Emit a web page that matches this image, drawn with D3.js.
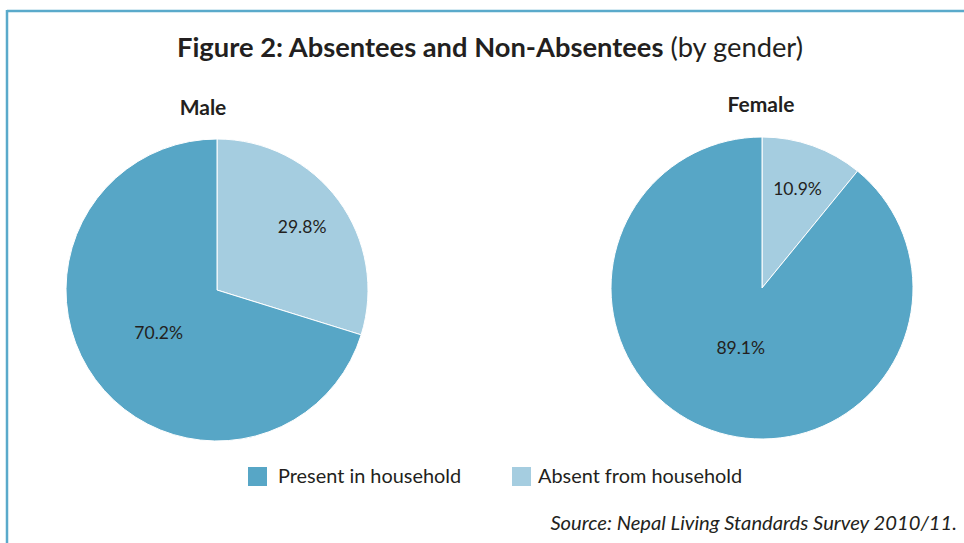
<!DOCTYPE html>
<html>
<head>
<meta charset="utf-8">
<script src="https://cdn.jsdelivr.net/npm/d3@7"></script>
<style>
  html, body { margin: 0; padding: 0; background: #fff; }
  svg { display: block; font-family: Lato, "Open Sans", sans-serif; }
</style>
</head>
<body>
<svg id="chart" width="964" height="543"></svg>
<script>
// Share of people present in / absent from the household, by gender (%)
const categories = ["Absent from household", "Present in household"];
const legendOrder = ["Present in household", "Absent from household"];
const groups = ["Male", "Female"];
const maleValues = [29.8, 70.2];
const femaleValues = [10.9, 89.1];

const titleBold = "Figure 2: Absentees and Non-Absentees";
const titleRest = " (by gender)";
const sourceText = "Source: Nepal Living Standards Survey 2010/11.";

const W = 964, H = 543;
const svg = d3.select("#chart");

const color = d3.scaleOrdinal()
  .domain(categories)
  .range(["#a5cde0", "#57a6c6"]);

// frame: top and left rules
svg.append("line").attr("x1", 7).attr("x2", W).attr("y1", 11).attr("y2", 11)
  .attr("stroke", "#5aaacb").attr("stroke-width", 2.5);
svg.append("line").attr("x1", 7).attr("x2", 7).attr("y1", 10).attr("y2", H)
  .attr("stroke", "#5aaacb").attr("stroke-width", 2.5);

// title
const title = svg.append("text")
  .attr("x", 490).attr("y", 57)
  .attr("text-anchor", "middle")
  .attr("font-size", 27.3)
  .attr("fill", "#231f20");
title.append("tspan").attr("font-weight", "bold").text(titleBold);
title.append("tspan").text(titleRest);

const radius = 151;
const centers = [{ x: 217, y: 290 }, { x: 762, y: 288 }];
const groupTitleY = [115, 112];
const seriesList = [maleValues, femaleValues];

const pie = d3.pie().sort(null).value(d => d.value);
const arc = d3.arc().innerRadius(0).outerRadius(radius);

groups.forEach((g, i) => {
  const data = categories.map((c, k) => ({ cat: c, value: seriesList[i][k] }));
  const gEl = svg.append("g")
    .attr("transform", `translate(${centers[i].x},${centers[i].y})`);

  const arcs = pie(data);
  gEl.selectAll("path")
    .data(arcs)
    .enter().append("path")
    .attr("d", arc)
    .attr("fill", d => color(d.data.cat))
    .attr("stroke", "#ffffff")
    .attr("stroke-width", 1);

  gEl.selectAll("text.val")
    .data(arcs)
    .enter().append("text")
    .attr("class", "val")
    .attr("transform", d => {
      const share = d.data.value / 100;
      const lr = radius * (share < 0.5 ? 0.7 : (share > 0.8 ? 0.42 : 0.48));
      const a = d3.arc().innerRadius(lr).outerRadius(lr);
      const [cx, cy] = a.centroid(d);
      return `translate(${cx},${cy})`;
    })
    .attr("text-anchor", "middle")
    .attr("dy", "0.35em")
    .attr("font-size", 17.5)
    .attr("fill", "#231f20")
    .text(d => d.data.value.toFixed(1) + "%");

  svg.append("text")
    .attr("x", i === 0 ? 203 : 761)
    .attr("y", groupTitleY[i])
    .attr("text-anchor", "middle")
    .attr("font-size", 21)
    .attr("font-weight", "bold")
    .attr("fill", "#231f20")
    .text(g);
});

// legend
const legendX = [248, 512];
const legendTextDx = [30, 26];
const legend = svg.selectAll("g.legend")
  .data(legendOrder)
  .enter().append("g")
  .attr("class", "legend")
  .attr("transform", (d, i) => `translate(${legendX[i]},467)`);
legend.append("rect")
  .attr("width", 19).attr("height", 19)
  .attr("fill", d => color(d));
legend.append("text")
  .attr("x", (d, i) => legendTextDx[i]).attr("y", 16)
  .attr("font-size", 19.9)
  .attr("fill", "#231f20")
  .text(d => d);

// source note
svg.append("text")
  .attr("x", 957).attr("y", 530)
  .attr("text-anchor", "end")
  .attr("font-size", 20.2)
  .attr("font-style", "italic")
  .attr("fill", "#231f20")
  .text(sourceText);
</script>
</body>
</html>
